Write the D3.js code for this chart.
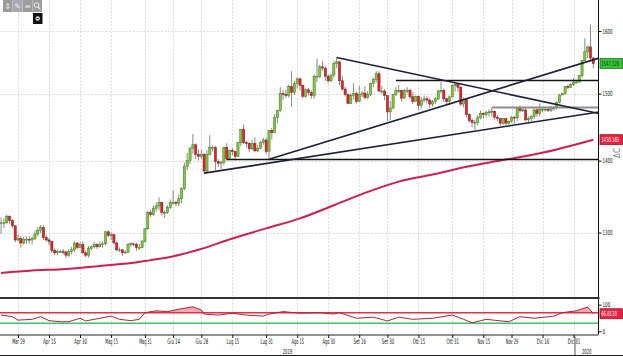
<!DOCTYPE html>
<html><head><meta charset="utf-8">
<script src="https://cdn.jsdelivr.net/npm/d3@7/dist/d3.min.js"></script>
<style>
html,body{margin:0;padding:0;background:#fff;overflow:hidden;}
svg{display:block;}
text{font-family:"DejaVu Sans Condensed","DejaVu Sans",sans-serif;}
</style></head><body>
<svg id="chart" width="623" height="356"></svg>
<script>
// ---------- DATA (gold, daily, 21 Mar 2019 - 9 Jan 2020) ----------
const firstDay = "2019-03-21", lastDay = "2020-01-09";
const open = [
1312,1313,1313,1322,1316,1309,1290,1292,1286,1291,
1291,1290,1292,1298,1303,1307,1293,1290,1288,1276,
1273,1275,1275,1274,1270,1275,1277,1286,1280,1284,
1273,1270,1279,1281,1284,1281,1284,1285,1301,1296,
1297,1286,1277,1277,1273,1274,1284,1285,1284,1280,
1280,1288,1305,1327,1324,1333,1336,1341,1327,1327,
1334,1341,1341,1340,1346,1360,1392,1400,1418,1423,
1409,1406,1409,1385,1409,1419,1419,1399,1396,1397,
1419,1403,1415,1413,1406,1426,1446,1426,1425,1417,
1425,1414,1418,1426,1430,1413,1444,1441,1464,1474,
1500,1499,1497,1511,1502,1516,1523,1513,1496,1506,
1502,1497,1527,1527,1542,1540,1527,1520,1529,1547,
1550,1520,1507,1499,1485,1497,1500,1488,1499,1501,
1494,1499,1516,1522,1531,1504,1504,1497,1472,1478,
1499,1505,1505,1493,1505,1505,1495,1488,1496,1482,
1490,1492,1490,1484,1488,1492,1504,1505,1492,1488,
1495,1513,1514,1510,1484,1491,1468,1459,1456,1456,
1463,1470,1468,1471,1472,1473,1464,1462,1455,1462,
1455,1458,1464,1463,1477,1474,1475,1460,1462,1465,
1475,1470,1476,1476,1476,1474,1479,1478,1486,1498,
1500,1511,1510,1514,1517,1518,1528,1552,1566,1574,
1556];
const high = [
1320,1319,1324,1323,1318,1309,1297,1295,1294,1295,
1295,1295,1302,1307,1310,1310,1297,1293,1289,1279,
1277,1277,1278,1276,1278,1281,1288,1287,1287,1288,
1276,1282,1283,1287,1286,1288,1288,1302,1303,1300,
1298,1288,1280,1278,1276,1286,1287,1286,1286,1285,
1290,1306,1329,1331,1337,1341,1348,1341,1330,1337,
1345,1358,1343,1352,1362,1397,1411,1420,1439,1425,
1416,1416,1411,1415,1437,1422,1421,1402,1400,1420,
1425,1416,1418,1414,1427,1446,1453,1429,1427,1430,
1434,1423,1428,1433,1433,1445,1448,1469,1475,1510,
1505,1506,1514,1535,1520,1525,1525,1514,1508,1509,
1505,1530,1555,1545,1551,1543,1530,1530,1551,1557,
1551,1527,1511,1500,1500,1516,1503,1512,1504,1511,
1504,1517,1525,1535,1535,1512,1507,1497,1489,1500,
1510,1513,1506,1507,1510,1508,1502,1497,1497,1495,
1497,1496,1493,1490,1495,1506,1518,1508,1494,1497,
1514,1517,1516,1511,1494,1493,1470,1462,1460,1467,
1474,1471,1474,1476,1478,1474,1467,1463,1462,1463,
1459,1466,1466,1480,1482,1480,1478,1465,1467,1477,
1479,1485,1479,1480,1479,1481,1481,1488,1499,1501,
1512,1514,1516,1524,1520,1529,1553,1588,1576,1611,
1558];
const low = [
1298,1306,1312,1312,1306,1287,1288,1280,1284,1285,
1285,1284,1290,1295,1299,1290,1288,1283,1273,1270,
1270,1273,1271,1266,1268,1271,1274,1278,1279,1272,
1267,1267,1276,1279,1278,1280,1280,1283,1294,1290,
1285,1275,1274,1269,1272,1273,1281,1282,1276,1277,
1279,1287,1303,1321,1322,1328,1330,1323,1320,1325,
1332,1338,1336,1336,1340,1358,1386,1395,1410,1402,
1400,1402,1381,1383,1408,1413,1386,1391,1388,1393,
1400,1403,1408,1400,1405,1421,1424,1419,1412,1415,
1413,1412,1416,1423,1410,1400,1431,1440,1455,1472,
1490,1493,1494,1480,1498,1508,1505,1493,1494,1497,
1492,1492,1518,1524,1535,1520,1517,1518,1525,1540,
1513,1505,1496,1484,1484,1491,1485,1487,1495,1491,
1492,1496,1510,1517,1503,1500,1490,1458,1459,1476,
1496,1501,1488,1492,1500,1492,1484,1488,1475,1477,
1486,1485,1478,1480,1484,1490,1500,1487,1484,1482,
1494,1503,1503,1481,1479,1464,1456,1449,1445,1452,
1461,1462,1464,1465,1465,1460,1458,1451,1452,1452,
1453,1456,1454,1458,1471,1472,1458,1456,1458,1461,
1465,1465,1472,1473,1472,1472,1474,1476,1485,1497,
1498,1507,1509,1512,1516,1517,1525,1552,1556,1553,
1540];
const close = [
1313,1313,1322,1316,1309,1290,1292,1286,1291,1291,
1290,1292,1298,1303,1307,1293,1290,1288,1276,1273,
1275,1275,1274,1270,1275,1277,1286,1280,1284,1273,
1270,1279,1281,1284,1281,1284,1285,1301,1296,1297,
1286,1277,1277,1273,1274,1284,1285,1284,1280,1280,
1288,1305,1327,1324,1333,1336,1341,1327,1327,1334,
1341,1341,1340,1346,1360,1392,1400,1418,1423,1409,
1406,1409,1385,1409,1419,1419,1399,1396,1397,1419,
1403,1415,1413,1406,1426,1446,1426,1425,1417,1425,
1414,1418,1426,1430,1413,1444,1441,1464,1474,1500,
1499,1497,1511,1502,1516,1523,1513,1496,1506,1502,
1497,1527,1527,1542,1540,1527,1520,1529,1547,1550,
1520,1507,1499,1485,1497,1500,1488,1499,1501,1494,
1499,1516,1522,1531,1504,1504,1497,1472,1478,1499,
1505,1505,1493,1505,1505,1495,1488,1496,1482,1490,
1492,1490,1484,1488,1492,1504,1505,1492,1488,1495,
1513,1514,1510,1484,1491,1468,1459,1456,1456,1463,
1470,1468,1471,1472,1473,1464,1462,1455,1462,1455,
1458,1464,1463,1477,1474,1475,1460,1462,1465,1475,
1470,1476,1476,1476,1474,1479,1478,1486,1498,1500,
1511,1510,1514,1517,1518,1528,1552,1566,1574,1556,
1547];
const lastPrice = 1547.32, lastPriceLabel = "1547.320";

// 200-day moving average, read at these day indices
const maIdx = [0,11,23,35,47,53,59,66,70,82,94,106,118,130,141,153,165,177,191,210];
const maVal = [1247,1250,1252,1256,1260,1263.5,1267,1273,1277,1292,1305.5,1319,1337,1355.5,1370,1380,1391,1400,1410.5,1430.5];
const maLabel = "1430.165";

// oscillator (lower pane)
const oscIdx = [0,4,6,11,14,17,21,24,28,30,35,39,42,46,49,51,55,59,63,68,71,72,77,82,87,93,95,100,106,113,118,120,126,132,137,141,146,153,160,164,167,172,180,184,189,196,199,204,208,210];
const oscVal = [61,55,42,45,55,40,36,36,49,39,49,57,45,40,45,70,77,74,83,92,80,65,61,68,61,57,65,74,68,70,65,70,49,53,39,53,45,49,61,45,32,45,36,55,49,57,70,77,91,66];
const oscLabel = "66.8130";
const oscUpper = 70, oscLower = 30;

// drawn trend lines: [startIdx, startPrice, endIdx, endPrice]
const trendLines = [[72,1382,212,1472],[95,1402,212,1556],[119,1557,212,1469.5]];
// horizontal levels: price and start index
const levelPrice = [1401.5, 1520.4, 1478.7];
const levelStart = [80, 140, 174];

const priceTicks = [1300,1400,1500,1600];
const oscTicks = [0,100];
const tickDates = ["2019-03-29","2019-04-15","2019-04-30","2019-05-15","2019-05-31","2019-06-14","2019-06-28","2019-07-15","2019-07-31","2019-08-15","2019-08-30","2019-09-16","2019-09-30","2019-10-15","2019-10-31","2019-11-15","2019-11-29","2019-12-16","2019-12-31"];
const tickLabels = ["Mar 29","Apr 15","Apr 30","Mag 15","Mag 31","Giu 14","Giu 28","Lug 15","Lug 31","Ago 15","Ago 30","Set 16","Set 30","Ott 15","Ott 31","Nov 15","Nov 29","Dic 16","Dic 31"];
const yearLabels = ["2019","2020"];
const yearStart = "2020-01-01";

// ---------- LAYOUT ----------
const svg = d3.select("#chart");
const R = 598.5, mainBottom = 297, subTop = 299, subBottom = 334.5;
const parse = d3.timeParse("%Y-%m-%d"), fmt = d3.timeFormat("%Y-%m-%d");
const dates = d3.timeDay.range(parse(firstDay), d3.timeDay.offset(parse(lastDay),1)).filter(d => d.getDay()%6 !== 0);
const keys = dates.map(fmt);
const step = 2.82;
const x = d3.scaleLinear().domain([0, keys.length-1]).range([1.1, 1.1+(keys.length-1)*step]);
const y = d3.scaleLog().domain([1300,1600]).range([232.5,31]);
const ys = d3.scaleLinear().domain([0,100]).range([331.3,304.7]);
const data = close.map((c,i)=>({i, o:open[i], h:high[i], l:low[i], c}));

const defs = svg.append("defs");
defs.append("clipPath").attr("id","cm").append("rect").attr("x",0).attr("y",0).attr("width",R).attr("height",mainBottom);
defs.append("clipPath").attr("id","cs").append("rect").attr("x",0).attr("y",subTop).attr("width",R).attr("height",subBottom-subTop);
defs.append("clipPath").attr("id","cu").append("rect").attr("x",0).attr("y",subTop).attr("width",R).attr("height",ys(oscUpper)-subTop);
defs.append("clipPath").attr("id","cl").append("rect").attr("x",0).attr("y",ys(oscLower)).attr("width",R).attr("height",subBottom-ys(oscLower));

svg.append("rect").attr("width",623).attr("height",356).attr("fill","#fff");

const tickIdx = tickDates.map(d => keys.indexOf(d));

// grid
const grid = svg.append("g").attr("stroke","#d6d6d6").attr("stroke-width",0.8).attr("stroke-dasharray","2,1.5");
grid.selectAll(".vg").data(tickIdx).join("line")
  .attr("x1",d=>Math.round(x(d))+0.5).attr("x2",d=>Math.round(x(d))+0.5).attr("y1",0).attr("y2",mainBottom);
grid.selectAll(".vs").data(tickIdx).join("line")
  .attr("x1",d=>Math.round(x(d))+0.5).attr("x2",d=>Math.round(x(d))+0.5).attr("y1",subTop).attr("y2",subBottom);
grid.selectAll(".hg").data(priceTicks).join("line")
  .attr("x1",0).attr("x2",R).attr("y1",d=>Math.round(y(d))+0.5).attr("y2",d=>Math.round(y(d))+0.5);

// main pane
const main = svg.append("g").attr("clip-path","url(#cm)");

// moving average
main.append("path").datum(maIdx.map((d,k)=>[d,maVal[k]]))
  .attr("fill","none").attr("stroke","#d41d4f").attr("stroke-width",2)
  .attr("d", d3.line().x(d=>x(d[0])).y(d=>y(d[1])).curve(d3.curveMonotoneX));

// candles
const cg = main.append("g");
cg.selectAll(".w").data(data).join("line")
  .attr("x1",d=>x(d.i)).attr("x2",d=>x(d.i)).attr("y1",d=>y(d.h)).attr("y2",d=>y(d.l))
  .attr("stroke","#6b6b6b").attr("stroke-width",0.8);
const bw = 2.2;
cg.selectAll(".b").data(data).join("rect")
  .attr("x",d=>x(d.i)-bw/2).attr("width",bw)
  .attr("y",d=>y(Math.max(d.o,d.c)))
  .attr("height",d=>Math.max(0.9, Math.abs(y(d.o)-y(d.c))))
  .attr("fill",d=>d.c>=d.o ? "#86c440" : "#d8262e")
  .attr("stroke",d=>d.c>=d.o ? "#3f7b1d" : "#8c1b20").attr("stroke-width",0.5);

// horizontal levels
const lvColors = ["#151515","#151515","#8e8e8e"], lvWidths = [1.5,1.3,2.2];
main.selectAll(".lv").data(levelPrice).join("line")
  .attr("x1",(d,k)=>x(levelStart[k])).attr("x2",R)
  .attr("y1",d=>y(d)).attr("y2",d=>y(d))
  .attr("stroke",(d,k)=>lvColors[k]).attr("stroke-width",(d,k)=>lvWidths[k]);

// trend lines
main.selectAll(".tl").data(trendLines).join("line")
  .attr("x1",d=>x(d[0])).attr("y1",d=>y(d[1])).attr("x2",d=>x(d[2])).attr("y2",d=>y(d[3]))
  .attr("stroke","#1b1f3b").attr("stroke-width",1.6);

// oscillator pane
const osc = oscIdx.map((d,k)=>[d,oscVal[k]]);
const sub = svg.append("g").attr("clip-path","url(#cs)");
const area70 = d3.area().x(d=>x(d[0])).y0(ys(oscUpper)).y1(d=>ys(d[1]));
sub.append("path").datum(osc).attr("clip-path","url(#cu)").attr("fill","#ef8e98").attr("opacity",0.75).attr("d",area70);
const area30 = d3.area().x(d=>x(d[0])).y0(ys(oscLower)).y1(d=>ys(d[1]));
sub.append("path").datum(osc).attr("clip-path","url(#cl)").attr("fill","#9ed99e").attr("opacity",0.75).attr("d",area30);
sub.append("line").attr("x1",0).attr("x2",R).attr("y1",ys(oscUpper)).attr("y2",ys(oscUpper)).attr("stroke","#e2323f").attr("stroke-width",1.5);
sub.append("line").attr("x1",0).attr("x2",R).attr("y1",ys(oscLower)).attr("y2",ys(oscLower)).attr("stroke","#3cc36b").attr("stroke-width",1.5);
sub.append("path").datum(osc).attr("fill","none").attr("stroke","#b3203d").attr("stroke-width",1)
  .attr("d", d3.line().x(d=>x(d[0])).y(d=>ys(d[1])));

// frame lines
svg.append("line").attr("x1",R).attr("x2",R).attr("y1",0).attr("y2",subBottom).attr("stroke","#111").attr("stroke-width",1);
svg.append("line").attr("x1",0).attr("x2",R+1).attr("y1",298).attr("y2",298).attr("stroke","#333").attr("stroke-width",2);
svg.append("line").attr("x1",0).attr("x2",R).attr("y1",subBottom+0.5).attr("y2",subBottom+0.5).attr("stroke","#222").attr("stroke-width",1);
svg.append("line").attr("x1",0).attr("x2",623).attr("y1",355.5).attr("y2",355.5).attr("stroke","#222").attr("stroke-width",1);

// axes
const yAxis = svg.append("g").attr("transform",`translate(${R},0)`)
  .call(d3.axisRight(y).tickValues(priceTicks).tickFormat(d3.format("d")).tickSize(3).tickPadding(1));
const sAxis = svg.append("g").attr("transform",`translate(${R},0)`)
  .call(d3.axisRight(ys).tickValues(oscTicks).tickFormat(d3.format("d")).tickSize(3).tickPadding(1));
const xAxis = svg.append("g").attr("transform",`translate(0,${subBottom+0.5})`)
  .call(d3.axisBottom(x).tickValues(tickIdx).tickFormat((d,k)=>tickLabels[k]).tickSize(3).tickPadding(1));
[yAxis,sAxis,xAxis].forEach(a=>{
  a.select(".domain").remove();
  a.selectAll(".tick line").attr("stroke","#111");
  a.selectAll("text").attr("fill","#111").attr("font-family","DejaVu Sans Condensed, DejaVu Sans, sans-serif");
});
yAxis.selectAll("text").attr("font-size",7).attr("textLength",10).attr("lengthAdjust","spacingAndGlyphs");
sAxis.selectAll("text").attr("font-size",6.5).attr("textLength",d=>String(d).length*2.6).attr("lengthAdjust","spacingAndGlyphs");
xAxis.selectAll("text").attr("font-size",7.5).attr("textLength",12.5).attr("lengthAdjust","spacingAndGlyphs");

// year labels and separator
const ySep = keys.findIndex(k => k >= yearStart) - 0.5;
svg.append("line").attr("x1",x(ySep)).attr("x2",x(ySep)).attr("y1",subBottom+2).attr("y2",356).attr("stroke","#222").attr("stroke-width",0.8);
svg.selectAll(".yr").data(yearLabels).join("text")
  .attr("x",(d,k)=> k===0 ? (0+x(ySep))/2 : (x(ySep)+R)/2).attr("y",353.5)
  .attr("text-anchor","middle").attr("font-size",7).attr("fill","#111")
  .attr("textLength",9.5).attr("lengthAdjust","spacingAndGlyphs").text(d=>d);

// value boxes on right (text horizontally compressed by a transform)
function valueBox(cy, label, fill, stroke, color){
  const g = svg.append("g");
  g.append("rect").attr("x",600).attr("y",cy-5).attr("width",22.5).attr("height",10).attr("fill",fill).attr("stroke",stroke).attr("stroke-width",0.8);
  const t = g.append("g").attr("transform",`translate(601.2,${cy+2.5}) scale(0.6,1)`);
  t.append("text").attr("x",0).attr("y",0).attr("font-size",7).attr("fill",color).text(label);
}
valueBox(y(lastPrice), lastPriceLabel, "#38c23a", "#1d7a1f", "#103a10");
valueBox(y(maVal[maVal.length-1]), maLabel, "#e8223f", "#a0142a", "#fff");
valueBox(ys(oscVal[oscVal.length-1]), oscLabel, "#e8223f", "#a0142a", "#fff");

// small rotated glyph on axis
svg.append("text").attr("transform","translate(620,158) rotate(-90)").attr("font-size",8).attr("fill","#777").text("ΔC");

// toolbar
const tb = svg.append("g");
const icons = ["⇕","✎","≡",""];
icons.forEach((ic,k)=>{
  tb.append("rect").attr("x",3+k*9.8).attr("y",0).attr("width",9.6).attr("height",12).attr("fill",k===1?"#a9a9b3":"#9c9c9c");
  if (ic) tb.append("text").attr("x",7.8+k*9.8).attr("y",9).attr("text-anchor","middle").attr("font-size",8).attr("fill","#eee").text(ic);
});
tb.append("circle").attr("cx",36.6).attr("cy",5).attr("r",2.4).attr("fill","none").attr("stroke","#eee").attr("stroke-width",1);
tb.append("line").attr("x1",38.3).attr("y1",6.8).attr("x2",40.3).attr("y2",9.5).attr("stroke","#eee").attr("stroke-width",1.2);
tb.append("rect").attr("x",33).attr("y",13).attr("width",9.5).attr("height",11).attr("fill","#111");
tb.append("circle").attr("cx",37.7).attr("cy",18.5).attr("r",2.2).attr("fill","#ddd");
tb.append("line").attr("x1",36.4).attr("x2",39).attr("y1",18.5).attr("y2",18.5).attr("stroke","#111").attr("stroke-width",0.8);
</script>
</body></html>
